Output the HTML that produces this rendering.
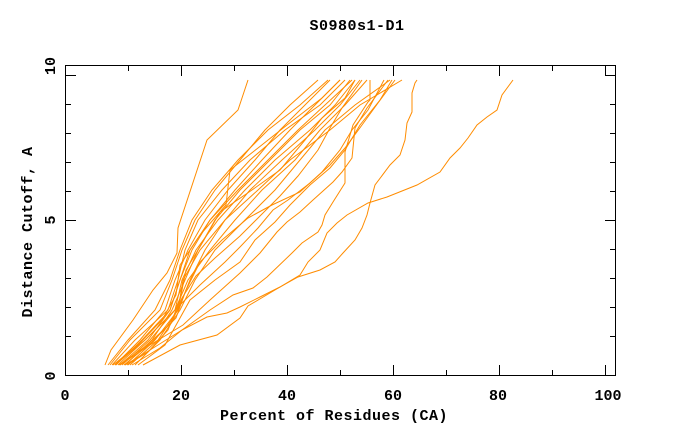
<!DOCTYPE html>
<html><head><meta charset="utf-8"><style>
html,body{margin:0;padding:0;background:#fff;}
svg{display:block;}
text{font-family:"Liberation Mono","DejaVu Sans Mono",monospace;font-weight:bold;fill:#000;}
</style></head><body>
<svg width="680" height="440" viewBox="0 0 680 440" xmlns="http://www.w3.org/2000/svg">
<rect x="0" y="0" width="680" height="440" fill="#fff"/>
<text x="357" y="30" font-size="15" text-anchor="middle" letter-spacing="0.5">S0980s1-D1</text>
<text x="334" y="420" font-size="15" text-anchor="middle" letter-spacing="0.5">Percent of Residues (CA)</text>
<text transform="translate(32,232) rotate(-90)" font-size="15" text-anchor="middle" letter-spacing="0.5">Distance Cutoff, A</text>
<g font-size="15" text-anchor="middle">
<text x="65" y="400">0</text>
<text x="181" y="400">20</text>
<text x="287" y="400">40</text>
<text x="393" y="400">60</text>
<text x="498" y="400">80</text>
<text x="608" y="400">100</text>
<text transform="translate(55,66) rotate(-90)">10</text>
<text transform="translate(55,220) rotate(-90)">5</text>
<text transform="translate(55,376) rotate(-90)">0</text>
</g>
<g stroke="#ff8c00" stroke-width="1" fill="none" stroke-linejoin="miter">
<polyline points="105,365 111,350 133,320 153,290 167,273 177,253 178,228 207,140 238,110 248,80"/>
<polyline points="143,365 180,345 217,335 240,318 248,306 280,287 298,277 320,270 335,262 343,253 355,240 362,228 367,215 370,203 375,185 390,165 400,155 405,140 407,123 412,112 412,93 415,83 417,80"/>
<polyline points="125,365 150,350 182,330 207,317 227,313 240,307 260,297 280,287 300,275 308,262 320,250 327,233 337,223 347,215 368,203 387,197 417,185 440,172 450,158 460,148 468,138 477,125 487,117 497,110 502,95 513,80"/>
<polyline points="132,365 160,348 182,330 210,310 233,295 253,288 267,277 292,253 302,243 318,232 322,225 325,215 333,202 345,183 345,152 353,125 368,102 370,100 370,80"/>
<polyline points="120,365 150,345 183,325 210,300 240,273 260,253 277,232 287,222 300,212 313,200 333,182 342,172 352,158 355,128 367,108 388,80"/>
<polyline points="115,365 145,340 175,310 200,285 225,262 240,247 258,228 273,210 288,200 310,183 330,165 345,148 362,125 378,103 395,80"/>
<polyline points="110,365 130,340 160,310 172,280 182,250 195,220 215,190 240,160 265,130 290,105 318,80"/>
<polyline points="115,365 140,340 165,310 175,280 188,250 205,220 228,190 255,160 280,130 305,105 330,80"/>
<polyline points="120,365 148,340 170,310 180,280 192,250 210,220 235,190 262,160 290,130 315,105 340,80"/>
<polyline points="125,365 152,340 172,310 185,280 198,250 215,220 240,190 270,160 300,130 330,105 350,80"/>
<polyline points="112,365 135,340 168,310 178,280 185,250 198,220 222,190 250,160 285,130 320,105 345,80"/>
<polyline points="118,365 145,340 175,310 182,280 196,250 218,220 245,190 275,160 310,130 335,105 355,80"/>
<polyline points="130,365 158,340 178,310 190,280 205,250 225,220 250,190 282,160 315,130 340,105 360,80"/>
<polyline points="122,365 150,340 175,310 188,280 210,250 235,220 262,190 295,160 320,130 345,105 367,80"/>
<polyline points="135,365 160,340 180,310 195,280 215,250 245,220 275,190 300,160 325,130 355,105 390,80"/>
<polyline points="128,365 155,340 178,310 183,280 200,250 225,220 258,190 290,160 330,130 360,105 402,80"/>
<polyline points="116,365 142,340 170,310 180,280 190,250 210,220 238,190 268,160 298,130 325,105 352,80"/>
<polyline points="108,365 128,340 155,310 170,280 180,250 192,220 212,190 238,160 268,130 300,105 328,80"/>
<polyline points="113,365 138,345 162,320 176,295 180,265 200,235 226,205 230,170 258,148 287,125 322,98 340,80"/>
<polyline points="127,365 148,352 168,330 180,300 186,270 204,240 220,212 252,190 280,170 305,140 322,118 345,98 355,80"/>
<polyline points="138,365 165,345 190,300 215,280 240,262 255,240 275,222 290,205 310,185 330,168 345,150 360,125 380,100 392,80"/>
<polyline points="124,365 152,342 176,318 186,290 200,262 222,240 248,218 272,205 300,192 322,172 340,150 352,130 368,110 384,80"/>
<polyline points="119,365 146,346 172,322 182,298 196,276 215,258 240,236 262,214 280,196 298,176 318,150 330,128 342,108 362,80"/>
</g>
<g stroke="#000" stroke-width="1" fill="none">
<rect x="65.5" y="65.5" width="550" height="310"/>
<path d="M128.5,375V370M181.5,375V365M234.5,375V370M287.5,375V365M340.5,375V370M393.5,375V365M446.5,375V370M499.5,375V365M552.5,375V370M605.5,375V365"/>
<path d="M128.5,66V71M181.5,66V76M234.5,66V71M287.5,66V76M340.5,66V71M393.5,66V76M446.5,66V71M499.5,66V76M552.5,66V71M605.5,66V76"/>
<path d="M66,75.5H76M66,104.5H71M66,133.5H71M66,162.5H71M66,191.5H71M66,220.5H76M66,249.5H71M66,278.5H71M66,307.5H71M66,336.5H71"/>
<path d="M615,75.5H605M615,104.5H610M615,133.5H610M615,162.5H610M615,191.5H610M615,220.5H605M615,249.5H610M615,278.5H610M615,307.5H610M615,336.5H610"/>
</g>
</svg>
</body></html>
